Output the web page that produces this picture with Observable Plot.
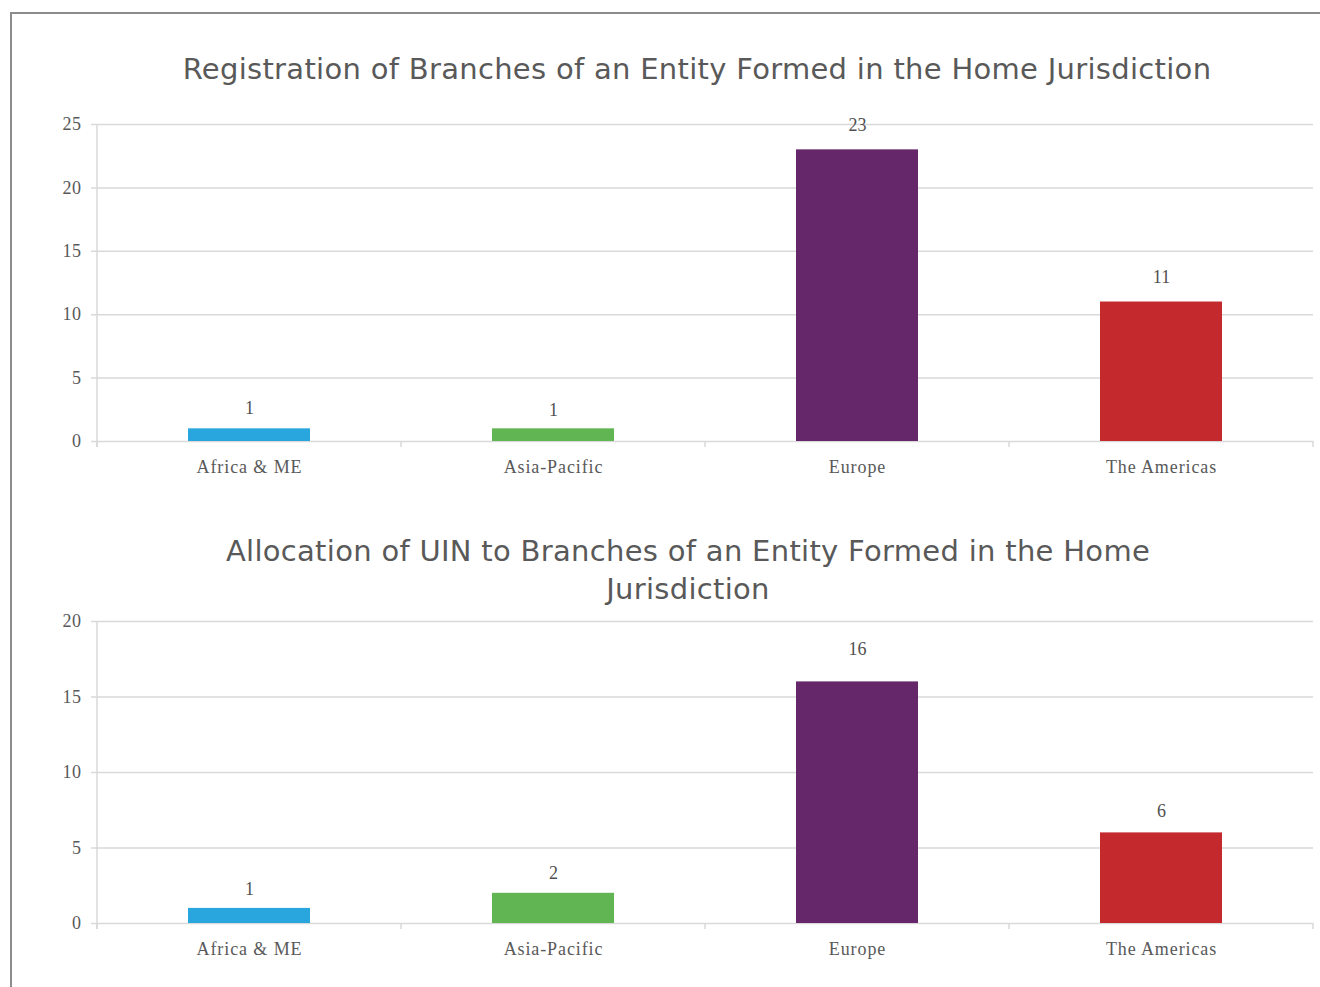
<!DOCTYPE html>
<html>
<head>
<meta charset="utf-8">
<script src="https://cdn.jsdelivr.net/npm/d3@7"></script>
<script src="https://cdn.jsdelivr.net/npm/@observablehq/plot@0.6"></script>
<style>
  html, body { margin: 0; padding: 0; background: #fff; }
  #page { position: relative; width: 1320px; height: 987px; overflow: hidden; }
  #border { position: absolute; left: 10px; top: 12px; width: 1330px; height: 1000px; border: 2px solid #8c8c8c; box-sizing: border-box; }
  .title { position: absolute; left: 0; text-align: center; font-family: "DejaVu Sans", sans-serif; color: #595959; font-size: 29px; line-height: 38px; letter-spacing: 0.3px; }
  .chart { position: absolute; left: 0; }
  .chart g[aria-label="x-axis tick label"] text { letter-spacing: 0.9px; }
  .chart g[aria-label="y-axis tick label"] text { letter-spacing: 0.5px; }
</style>
</head>
<body>
<div id="page">
  <div id="border"></div>
  <div class="title" id="t1" style="top:50px; width:1394px;"></div>
  <div class="title" id="t2" style="top:532px; width:1376px;"></div>
  <div class="chart" id="c1" style="top:100px;"></div>
  <div class="chart" id="c2" style="top:600px;"></div>
</div>
<script>
const categories = ["Africa & ME", "Asia-Pacific", "Europe", "The Americas"];
const registrationValues = [1, 1, 23, 11];
const uinValues = [1, 2, 16, 6];
const barColors = ["#29a6de", "#62b553", "#66266a", "#c4292e"];
const yTicksTop = [0, 5, 10, 15, 20, 25];
const yTicksBottom = [0, 5, 10, 15, 20];
const title1 = "Registration of Branches of an Entity Formed in the Home Jurisdiction";
const title2Lines = ["Allocation of UIN to Branches of an Entity Formed in the Home", "Jurisdiction"];

document.getElementById("t1").textContent = title1;
document.getElementById("t2").innerHTML = title2Lines.map(s => s.replace(/&/g, "&amp;")).join("<br>");

const gridColor = "#d9d9d9";
const serif = "'Liberation Serif', 'DejaVu Serif', serif";

function axisDecor(n) {
  return (index, scales, values, dims) => {
    const {width, marginLeft, marginRight, marginTop} = dims;
    const y0 = scales.y(0);
    const g = d3.create("svg:g").attr("stroke", gridColor).attr("stroke-width", 1.5);
    g.append("line").attr("x1", marginLeft).attr("x2", marginLeft).attr("y1", marginTop).attr("y2", y0 + 6);
    const step = (width - marginLeft - marginRight) / n;
    for (let i = 0; i <= n; i++) {
      const x = marginLeft + i * step;
      g.append("line").attr("x1", x).attr("x2", x).attr("y1", y0).attr("y2", y0 + 6);
    }
    return g.node();
  };
}

function makeChart(values, yTicks, height, marginTop, labelDy) {
  const data = categories.map((c, i) => ({category: c, value: values[i], color: barColors[i], dy: labelDy[i]}));
  return Plot.plot({
    width: 1320,
    height,
    marginLeft: 97,
    marginRight: 7,
    marginTop,
    marginBottom: 40,
    style: {fontFamily: serif, fontSize: "18px", color: "#595959", background: "transparent", overflow: "visible"},
    x: {domain: categories, paddingInner: 0.6, paddingOuter: 0.3, label: null},
    y: {domain: [0, d3.max(yTicks)], label: null},
    marks: [
      Plot.ruleY(yTicks, {y: d => d, stroke: gridColor, strokeWidth: 1.5, insetLeft: -6}),
      Plot.barY(data, {x: "category", y: "value", fill: d => d.color}),
      axisDecor(categories.length),
      Plot.axisX({tickSize: 0, tickPadding: 19, fontSize: 18, fill: "#595959"}),
      Plot.axisY({ticks: yTicks, tickSize: 0, tickPadding: 16, fontSize: 18, fill: "#595959"}),
      ...data.map(d => Plot.text([d], {x: "category", y: "value", text: dd => String(dd.value), dy: d.dy, fontSize: 18, fill: "#505050", fontFamily: serif}))
    ]
  });
}

const c1 = makeChart(registrationValues, yTicksTop, 381, 24, [-21, -19, -25, -25]);
document.getElementById("c1").appendChild(c1);
const c2 = makeChart(uinValues, yTicksBottom, 363, 21, [-19, -20, -33, -22]);
document.getElementById("c2").appendChild(c2);
</script>
</body>
</html>
